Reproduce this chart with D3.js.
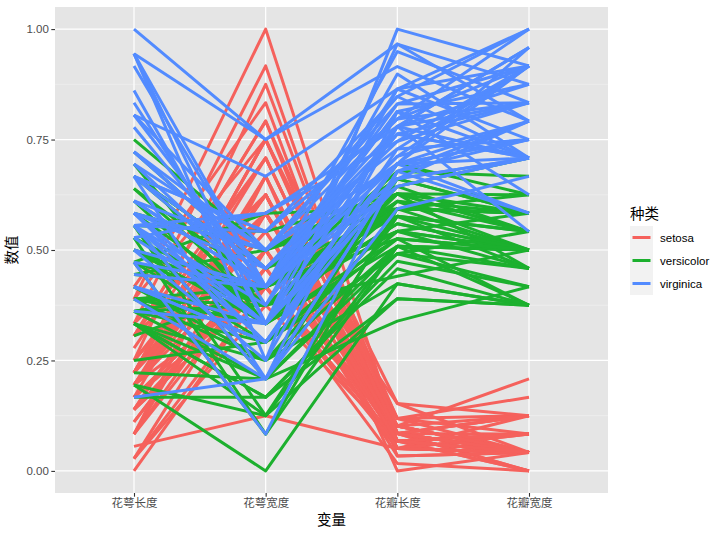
<!DOCTYPE html>
<html><head><meta charset="utf-8">
<script src="https://cdn.jsdelivr.net/npm/d3@7"></script>
<style>body{margin:0;background:#fff}svg{display:block}text{font-family:"Liberation Sans","Noto Sans CJK SC",sans-serif}</style>
</head><body><svg id="c" width="728" height="535"></svg>
<script>
// Data (iris, raw measurements; each axis rescaled to [0,1] by its own linear scale)
const variables = ["花萼长度","花萼宽度","花瓣长度","花瓣宽度"];
const speciesNames = ["setosa","versicolor","virginica"];
const speciesSizes = [50,50,50];
const yTicks = [0,0.25,0.5,0.75,1];
const yTickLabels = ["0.00","0.25","0.50","0.75","1.00"];
const sepalLength = [5.1,4.9,4.7,4.6,5.0,5.4,4.6,5.0,4.4,4.9,5.4,4.8,4.8,4.3,5.8,5.7,5.4,5.1,5.7,5.1,5.4,5.1,4.6,5.1,4.8,5.0,5.0,5.2,5.2,4.7,4.8,5.4,5.2,5.5,4.9,5.0,5.5,4.9,4.4,5.1,5.0,4.5,4.4,5.0,5.1,4.8,5.1,4.6,5.3,5.0,
7.0,6.4,6.9,5.5,6.5,5.7,6.3,4.9,6.6,5.2,5.0,5.9,6.0,6.1,5.6,6.7,5.6,5.8,6.2,5.6,5.9,6.1,6.3,6.1,6.4,6.6,6.8,6.7,6.0,5.7,5.5,5.5,5.8,6.0,5.4,6.0,6.7,6.3,5.6,5.5,5.5,6.1,5.8,5.0,5.6,5.7,5.7,6.2,5.1,5.7,
6.3,5.8,7.1,6.3,6.5,7.6,4.9,7.3,6.7,7.2,6.5,6.4,6.8,5.7,5.8,6.4,6.5,7.7,7.7,6.0,6.9,5.6,7.7,6.3,6.7,7.2,6.2,6.1,6.4,7.2,7.4,7.9,6.4,6.3,6.1,7.7,6.3,6.4,6.0,6.9,6.7,6.9,5.8,6.8,6.7,6.7,6.3,6.5,6.2,5.9];
const sepalWidth = [3.5,3.0,3.2,3.1,3.6,3.9,3.4,3.4,2.9,3.1,3.7,3.4,3.0,3.0,4.0,4.4,3.9,3.5,3.8,3.8,3.4,3.7,3.6,3.3,3.4,3.0,3.4,3.5,3.4,3.2,3.1,3.4,4.1,4.2,3.1,3.2,3.5,3.6,3.0,3.4,3.5,2.3,3.2,3.5,3.8,3.0,3.8,3.2,3.7,3.3,
3.2,3.2,3.1,2.3,2.8,2.8,3.3,2.4,2.9,2.7,2.0,3.0,2.2,2.9,2.9,3.1,3.0,2.7,2.2,2.5,3.2,2.8,2.5,2.8,2.9,3.0,2.8,3.0,2.9,2.6,2.4,2.4,2.7,2.7,3.0,3.4,3.1,2.3,3.0,2.5,2.6,3.0,2.6,2.3,2.7,3.0,2.9,2.9,2.5,2.8,
3.3,2.7,3.0,2.9,3.0,3.0,2.5,2.9,2.5,3.6,3.2,2.7,3.0,2.5,2.8,3.2,3.0,3.8,2.6,2.2,3.2,2.8,2.8,2.7,3.3,3.2,2.8,3.0,2.8,3.0,2.8,3.8,2.8,2.8,2.6,3.0,3.4,3.1,3.0,3.1,3.1,3.1,2.7,3.2,3.3,3.0,2.5,3.0,3.4,3.0];
const petalLength = [1.4,1.4,1.3,1.5,1.4,1.7,1.4,1.5,1.4,1.5,1.5,1.6,1.4,1.1,1.2,1.5,1.3,1.4,1.7,1.5,1.7,1.5,1.0,1.7,1.9,1.6,1.6,1.5,1.4,1.6,1.6,1.5,1.5,1.4,1.5,1.2,1.3,1.4,1.3,1.5,1.3,1.3,1.3,1.6,1.9,1.4,1.6,1.4,1.5,1.4,
4.7,4.5,4.9,4.0,4.6,4.5,4.7,3.3,4.6,3.9,3.5,4.2,4.0,4.7,3.6,4.4,4.5,4.1,4.5,3.9,4.8,4.0,4.9,4.7,4.3,4.4,4.8,5.0,4.5,3.5,3.8,3.7,3.9,5.1,4.5,4.5,4.7,4.4,4.1,4.0,4.4,4.6,4.0,3.3,4.2,4.2,4.2,4.3,3.0,4.1,
6.0,5.1,5.9,5.6,5.8,6.6,4.5,6.3,5.8,6.1,5.1,5.3,5.5,5.0,5.1,5.3,5.5,6.7,6.9,5.0,5.7,4.9,6.7,4.9,5.7,6.0,4.8,4.9,5.6,5.8,6.1,6.4,5.6,5.1,5.6,6.1,5.6,5.5,4.8,5.4,5.6,5.1,5.1,5.9,5.7,5.2,5.0,5.2,5.4,5.1];
const petalWidth = [0.2,0.2,0.2,0.2,0.2,0.4,0.3,0.2,0.2,0.1,0.2,0.2,0.1,0.1,0.2,0.4,0.4,0.3,0.3,0.3,0.2,0.4,0.2,0.5,0.2,0.2,0.4,0.2,0.2,0.2,0.2,0.4,0.1,0.2,0.2,0.2,0.2,0.1,0.2,0.2,0.3,0.3,0.2,0.6,0.4,0.3,0.2,0.2,0.2,0.2,
1.4,1.5,1.5,1.3,1.5,1.3,1.6,1.0,1.3,1.4,1.0,1.5,1.0,1.4,1.3,1.4,1.5,1.0,1.5,1.1,1.8,1.3,1.5,1.2,1.3,1.4,1.4,1.7,1.5,1.0,1.1,1.0,1.2,1.6,1.5,1.6,1.5,1.3,1.3,1.3,1.2,1.4,1.2,1.0,1.3,1.2,1.3,1.3,1.1,1.3,
2.5,1.9,2.1,1.8,2.2,2.1,1.7,1.8,1.8,2.5,2.0,1.9,2.1,2.0,2.4,2.3,1.8,2.2,2.3,1.5,2.3,2.0,2.0,1.8,2.1,1.8,1.8,1.8,2.1,1.6,1.9,2.0,2.2,1.5,1.4,2.3,2.4,1.8,1.8,2.1,2.4,2.3,1.9,2.3,2.5,2.3,1.9,2.0,2.3,1.8];
const colors = ["#F5615C","#1CB02E","#528BFF"];

const columns = [sepalLength, sepalWidth, petalLength, petalWidth];
const speciesOf = [];
speciesSizes.forEach((n,i)=>{ for(let k=0;k<n;k++) speciesOf.push(i); });

const svg = d3.select("#c");
const L=55, R=608, T=7, B=493;
const x = d3.scalePoint().domain(variables).range([L,R]).padding(0.6);
const y = d3.scaleLinear().domain([-0.05,1.05]).range([B,T]);
const norm = columns.map(col => d3.scaleLinear().domain(d3.extent(col)).range([0,1]));

svg.append("rect").attr("x",L).attr("y",T).attr("width",R-L).attr("height",B-T).attr("fill","#E5E5E5");
// minor grid
const minor = [0.125,0.375,0.625,0.875];
svg.append("g").selectAll("line").data(minor).join("line")
  .attr("x1",L).attr("x2",R).attr("y1",d=>y(d)).attr("y2",d=>y(d))
  .attr("stroke","#F2F2F2").attr("stroke-width",0.6);
// major grid
svg.append("g").selectAll("line").data(yTicks).join("line")
  .attr("x1",L).attr("x2",R).attr("y1",d=>y(d)).attr("y2",d=>y(d))
  .attr("stroke","#fff").attr("stroke-width",1.2);
svg.append("g").selectAll("line").data(variables).join("line")
  .attr("y1",T).attr("y2",B).attr("x1",d=>x(d)).attr("x2",d=>x(d))
  .attr("stroke","#fff").attr("stroke-width",1.2);

// lines
const rows = speciesOf.map((s,i)=>({s, pts: variables.map((v,j)=>[x(v), y(norm[j](columns[j][i]))])}));
const line = d3.line();
svg.append("clipPath").attr("id","cp").append("rect").attr("x",L).attr("y",T).attr("width",R-L).attr("height",B-T);
svg.append("g").attr("clip-path","url(#cp)").selectAll("path").data(rows).join("path")
  .attr("d",d=>line(d.pts)).attr("fill","none").attr("stroke",d=>colors[d.s])
  .attr("stroke-width",3).attr("stroke-linejoin","round");

// axes
const ya = svg.append("g").attr("transform",`translate(${L},0)`)
  .call(d3.axisLeft(y).tickValues(yTicks).tickFormat((d,i)=>yTickLabels[i]).tickSize(3.7).tickPadding(2.5));
const xa = svg.append("g").attr("transform",`translate(0,${B})`)
  .call(d3.axisBottom(x).tickSize(3.7).tickPadding(2.5));
[ya,xa].forEach(a=>{
  a.select(".domain").remove();
  a.selectAll(".tick line").attr("stroke","#333").attr("stroke-width",1.1);
  a.selectAll(".tick text").attr("fill","#4D4D4D").style("font-size","11.5px")
    .style("font-family",'"Liberation Sans","Noto Sans CJK SC",sans-serif');
});

svg.append("text").attr("x",(L+R)/2).attr("y",525).attr("text-anchor","middle")
  .style("font-size","14.5px").attr("fill","#000").text("变量");
svg.append("text").attr("transform",`translate(17,${(T+B)/2}) rotate(-90)`).attr("text-anchor","middle")
  .style("font-size","14.5px").attr("fill","#000").text("数值");

// legend
const lg = svg.append("g");
lg.append("text").attr("x",630).attr("y",219).style("font-size","14.5px").text("种类");
speciesNames.forEach((n,i)=>{
  const yy = 226 + i*23;
  lg.append("rect").attr("x",630).attr("y",yy).attr("width",23).attr("height",23).attr("fill","#F2F2F2");
  lg.append("line").attr("x1",632.5).attr("x2",650.5).attr("y1",yy+11.5).attr("y2",yy+11.5)
    .attr("stroke",colors[i]).attr("stroke-width",3);
  lg.append("text").attr("x",660).attr("y",yy+15.5).style("font-size","11.5px").attr("fill","#000").text(n);
});
</script></body></html>
